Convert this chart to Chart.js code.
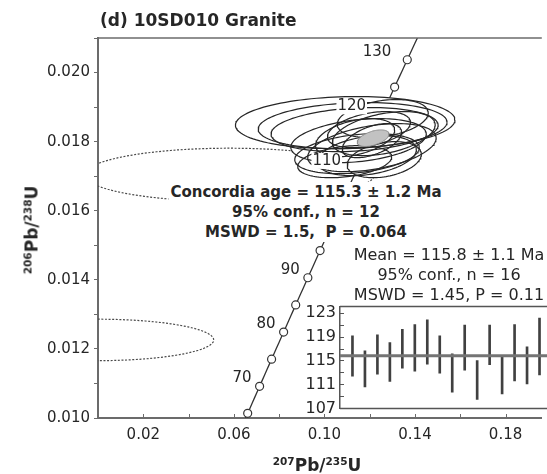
<!DOCTYPE html>
<html>
<head>
<meta charset="utf-8">
<script src="https://cdn.jsdelivr.net/npm/chart.js@4.4.1/dist/chart.umd.min.js"></script>
<style>
  html, body { margin: 0; padding: 0; background: #fff; }
  #wrap { position: relative; width: 547px; height: 474px; overflow: hidden;
          font-family: "DejaVu Sans", sans-serif; color: #262626; }
  canvas { position: absolute; }
  #main { left: 0; top: 0; }
  #inset { left: 290px; top: 293px; }
  .txt { position: absolute; white-space: nowrap; line-height: 1; }
  #title { left: 100px; top: 12px; font-weight: bold; font-size: 17px; }
  .ax { font-weight: bold; font-size: 17px; }
  .ax sup { font-size: 10.5px; vertical-align: 0; position: relative; top: -0.55em; }
  #ytitle { left: 32px; top: 230px; transform: translate(-50%, -50%) rotate(-90deg); }
  #xtitle { left: 317px; top: 465px; transform: translate(-50%, -50%); }
  #conc { left: 306px; top: 182px; transform: translateX(-50%); font-weight: bold;
          font-size: 15px; line-height: 20px; text-align: center; background: #fff; padding: 0 2px; }
  #mean { left: 449px; top: 245px; transform: translateX(-50%); font-size: 16px;
          line-height: 20px; text-align: center; }
</style>
</head>
<body>
<div id="wrap">
  <canvas id="main" width="547" height="474"></canvas>
  <div class="txt" id="title">(d) 10SD010 Granite</div>
  <div class="txt ax" id="ytitle"><sup>206</sup>Pb/<sup>238</sup>U</div>
  <div class="txt ax" id="xtitle"><sup>207</sup>Pb/<sup>235</sup>U</div>
  <div class="txt" id="conc">Concordia age = 115.3 ± 1.2 Ma<br>95% conf., n = 12<br>MSWD = 1.5,&nbsp; P = 0.064</div>
  <canvas id="inset" width="257" height="129"></canvas>
  <div class="txt" id="mean">Mean = 115.8 ± 1.1 Ma<br>95% conf., n = 16<br>MSWD = 1.45, P = 0.11</div>
</div>
<script>
// ---- U-Pb data -------------------------------------------------------
// Analyses used for the concordia age (2-sigma error ellipses)
const spotX   = [0.10917, 0.11245, 0.11332, 0.11507, 0.11441, 0.12096, 0.11878, 0.11965, 0.12620, 0.12096, 0.11354, 0.12576, 0.10895, 0.12642];
const spotY   = [0.018551, 0.018464, 0.018348, 0.018029, 0.017652, 0.017826, 0.017594, 0.018348, 0.018232, 0.018029, 0.018116, 0.018667, 0.017420, 0.017478];
const spotSx  = [0.04847, 0.04170, 0.03690, 0.02991, 0.02751, 0.02838, 0.02183, 0.01834, 0.02271, 0.01310, 0.01747, 0.02009, 0.02074, 0.01638];
const spotSy  = [0.000754, 0.000667, 0.000638, 0.000638, 0.000580, 0.000696, 0.000580, 0.000522, 0.000638, 0.000493, 0.000551, 0.000551, 0.000464, 0.000522];
const spotRho = [0.10, 0.15, 0.20, 0.30, 0.30, 0.40, 0.30, 0.40, 0.40, 0.50, 0.40, 0.30, 0.30, 0.30];

// Discordant analyses left out of the age (dotted)
const rejX   = [0.058, 0.000];
const rejY   = [0.01704, 0.01226];
const rejSx  = [0.064, 0.0511];
const rejSy  = [0.00077, 0.00060];
const rejRho = [0.0, 0.0];

// Concordia age ellipse
const ageX = 0.1215, ageY = 0.01810, ageSx = 0.0070, ageSy = 0.00024, ageRho = 0.5;

// Concordia tick ages (Ma) and the ones that carry a label
const markerAges  = [65, 70, 75, 80, 85, 90, 95, 100, 105, 110, 115, 120, 125, 130];
const labeledAges = [70, 80, 90, 100, 110, 120, 130];

// Axis ticks
const xTickValues = [0, 0.02, 0.04, 0.06, 0.08, 0.10, 0.12, 0.14, 0.16, 0.18];
const xTickLabels = ['', '0.02', '', '0.06', '', '0.10', '', '0.14', '', '0.18'];
const yTickValues = [0.010, 0.011, 0.012, 0.013, 0.014, 0.015, 0.016, 0.017, 0.018, 0.019, 0.020, 0.021];
const yTickLabels = ['0.010', '', '0.012', '', '0.014', '', '0.016', '', '0.018', '', '0.020', ''];

// Weighted-mean inset: 206Pb/238U ages with 2-sigma ranges (Ma)
const spotIndex = [1, 2, 3, 4, 5, 6, 7, 8, 9, 10, 11, 12, 13, 14, 15, 16];
const ageLow    = [112.4, 110.6, 112.7, 111.5, 113.7, 113.2, 114.4, 112.9, 109.7, 113.4, 108.5, 114.3, 109.4, 111.6, 111.1, 112.6];
const ageHigh   = [119.1, 116.6, 119.3, 118.0, 120.2, 121.0, 121.8, 119.1, 116.1, 120.9, 115.0, 120.9, 115.7, 121.0, 117.3, 122.1];
const meanAge   = 115.8;
const insetTickValues = [107, 109, 111, 113, 115, 117, 119, 121, 123];
const insetTickLabels = ['107', '', '111', '', '115', '', '119', '', '123'];

// ---- helpers -----------------------------------------------------------
const L238 = 1.55125e-4, L235 = 9.8485e-4;   // decay constants, 1/Ma
const pb206 = t => Math.expm1(L238 * t);
const pb207 = t => Math.expm1(L235 * t);

function ellipse(cx, cy, sx, sy, rho) {
  const pts = [], k = Math.sqrt(1 - rho * rho), n = 120;
  for (let i = 0; i <= n; i++) {
    const th = 2 * Math.PI * i / n;
    pts.push({ x: cx + sx * Math.cos(th), y: cy + sy * (rho * Math.cos(th) + k * Math.sin(th)) });
  }
  return pts;
}

const concordia = [];
for (let t = 55; t <= 140; t += 1) concordia.push({ x: pb207(t), y: pb206(t) });

Chart.defaults.font.family = '"DejaVu Sans", sans-serif';
Chart.defaults.color = '#262626';
const AXIS = '#6b6b6b';

const datasets = [];
rejX.forEach((_, i) => datasets.push({
  data: ellipse(rejX[i], rejY[i], rejSx[i], rejSy[i], rejRho[i]),
  borderColor: '#4a4a4a', borderWidth: 1.2, borderDash: [2, 1.6], pointRadius: 0, fill: false, order: 50
}));
datasets.push({ data: concordia, borderColor: '#333', borderWidth: 1.3, pointRadius: 0, fill: false, order: 45 });
datasets.push({
  data: markerAges.map(t => ({ x: pb207(t), y: pb206(t) })), showLine: false,
  pointRadius: 4, pointBackgroundColor: '#fff', pointBorderColor: '#333', pointBorderWidth: 1.2, order: 44
});
spotX.forEach((_, i) => datasets.push({
  data: ellipse(spotX[i], spotY[i], spotSx[i], spotSy[i], spotRho[i]),
  borderColor: 'rgba(0,0,0,0)', borderWidth: 0, backgroundColor: '#fff', fill: 'shape', pointRadius: 0, order: 40
}));
spotX.forEach((_, i) => datasets.push({
  data: ellipse(spotX[i], spotY[i], spotSx[i], spotSy[i], spotRho[i]),
  borderColor: '#262626', borderWidth: 1.2, pointRadius: 0, fill: false, order: 20
}));
datasets.push({
  data: ellipse(ageX, ageY, ageSx, ageSy, ageRho),
  borderColor: '#8f8f8f', borderWidth: 1, backgroundColor: '#c2c2c2', fill: 'shape', pointRadius: 0, order: 10
});

// frame top edge and inward x ticks
const mainFrame = {
  id: 'mainFrame',
  afterDraw(chart) {
    const { ctx, chartArea: a, scales: { x } } = chart;
    ctx.save();
    ctx.strokeStyle = AXIS;
    ctx.lineWidth = 1.5;
    ctx.beginPath(); ctx.moveTo(a.left, a.top); ctx.lineTo(a.right, a.top); ctx.stroke();
    ctx.lineWidth = 1;
    ctx.beginPath();
    x.ticks.forEach(tk => {
      const px = Math.round(x.getPixelForValue(tk.value)) + 0.5;
      ctx.moveTo(px, a.bottom); ctx.lineTo(px, a.bottom - 4);
    });
    ctx.stroke();
    ctx.restore();
  }
};

// age labels beside the concordia ticks
const ageLabels = {
  id: 'ageLabels',
  afterDatasetsDraw(chart) {
    const { ctx, scales: { x, y } } = chart;
    ctx.save();
    ctx.font = '15px "DejaVu Sans"';
    ctx.textAlign = 'right';
    ctx.textBaseline = 'middle';
    labeledAges.forEach(t => {
      const px = x.getPixelForValue(pb207(t)), py = y.getPixelForValue(pb206(t)) - 8;
      const gap = t < 100 ? 8 : 16, s = String(t), w = ctx.measureText(s).width;
      ctx.fillStyle = '#fff';
      ctx.fillRect(px - gap - w - 1, py - 8, w + 2, 16);
      ctx.fillStyle = '#262626';
      ctx.fillText(s, px - gap, py);
    });
    ctx.restore();
  }
};

new Chart(document.getElementById('main'), {
  type: 'line',
  data: { datasets },
  options: {
    responsive: false, animation: false, devicePixelRatio: 1, events: [],
    layout: { padding: { top: 38, right: 0, bottom: 0, left: 0 } },
    plugins: { legend: { display: false }, tooltip: { enabled: false } },
    scales: {
      x: {
        type: 'linear', min: 0, max: 0.196,
        afterBuildTicks: s => { s.ticks = xTickValues.map(v => ({ value: v })); },
        afterFit: s => { s.height = 56; },
        ticks: { callback: (v, i) => xTickLabels[i], font: { size: 15 }, color: '#262626', padding: 8, maxRotation: 0, autoSkip: false },
        grid: { display: true, drawOnChartArea: false, drawTicks: false },
        border: { display: true, color: AXIS, width: 2 }
      },
      y: {
        type: 'linear', min: 0.010, max: 0.021,
        afterBuildTicks: s => { s.ticks = yTickValues.map(v => ({ value: v })); },
        afterFit: s => { s.width = 98; },
        ticks: { callback: (v, i) => yTickLabels[i], font: { size: 15 }, color: '#262626', padding: 4, autoSkip: false },
        grid: { display: true, drawOnChartArea: false, drawTicks: true, tickLength: 4, color: AXIS, tickWidth: 1 },
        border: { display: true, color: AXIS, width: 2 }
      }
    }
  },
  plugins: [mainFrame, ageLabels]
});

// ---- inset: weighted mean of 206Pb/238U ages ----------------------------
const insetFrame = {
  id: 'insetFrame',
  afterDraw(chart) {
    const { ctx, chartArea: a, scales: { y } } = chart;
    ctx.save();
    ctx.strokeStyle = '#555';
    ctx.lineWidth = 1.5;
    ctx.beginPath();
    ctx.moveTo(a.left, a.top); ctx.lineTo(a.right, a.top);
    ctx.moveTo(a.left, a.bottom); ctx.lineTo(a.right, a.bottom);
    ctx.stroke();
    ctx.lineWidth = 1;
    ctx.beginPath();
    y.ticks.forEach(tk => {
      const py = Math.round(y.getPixelForValue(tk.value)) + 0.5;
      ctx.moveTo(a.left, py); ctx.lineTo(a.left + 4, py);
    });
    ctx.stroke();
    ctx.restore();
  }
};

new Chart(document.getElementById('inset'), {
  type: 'bar',
  data: {
    datasets: [
      { type: 'line', data: [{ x: 0, y: meanAge }, { x: 16.6, y: meanAge }],
        borderColor: '#747474', borderWidth: 3, pointRadius: 0, order: 0 },
      { type: 'bar', data: spotIndex.map((n, k) => ({ x: n, y: [ageLow[k], ageHigh[k]] })),
        backgroundColor: '#404040', borderWidth: 0, barThickness: 2, order: 1 }
    ]
  },
  options: {
    responsive: false, animation: false, devicePixelRatio: 1, events: [],
    layout: { padding: { top: 12, bottom: 12, left: 0, right: 0 } },
    plugins: { legend: { display: false }, tooltip: { enabled: false } },
    scales: {
      x: { type: 'linear', min: 0, max: 16.6, offset: false, display: false },
      y: {
        type: 'linear', min: 107, max: 124,
        afterBuildTicks: s => { s.ticks = insetTickValues.map(v => ({ value: v })); },
        afterFit: s => { s.width = 50; },
        ticks: { callback: (v, i) => insetTickLabels[i], font: { size: 16 }, color: '#262626', padding: 4, autoSkip: false },
        grid: { display: true, drawOnChartArea: false, drawTicks: false },
        border: { display: true, color: '#555', width: 1.5 }
      }
    }
  },
  plugins: [insetFrame]
});
</script>
</body>
</html>
